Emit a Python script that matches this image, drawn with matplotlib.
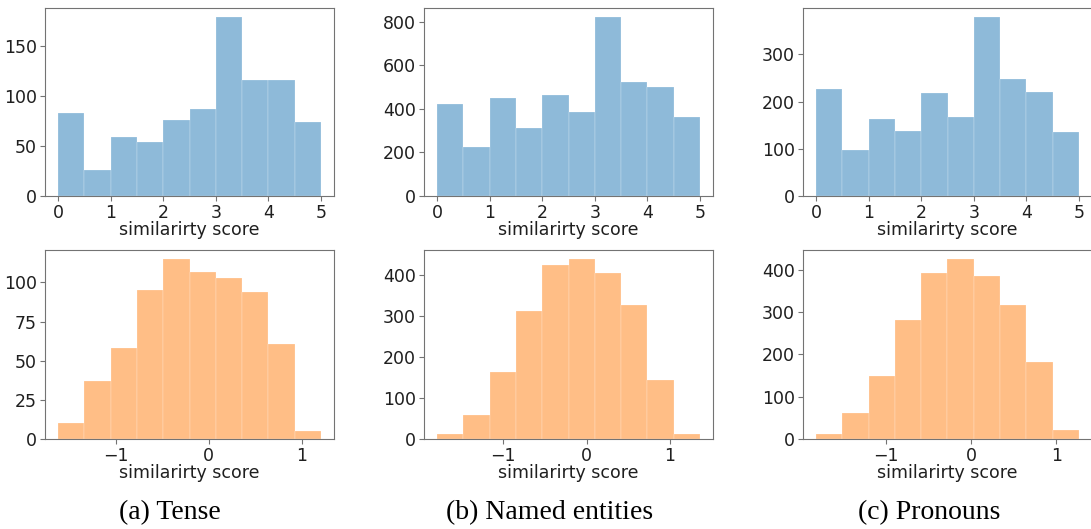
import numpy as np
from matplotlib import pyplot as plt
from matplotlib.ticker import MultipleLocator

# bin counts (10 bins each)
tense_scores = [83, 26, 59, 54, 76, 87, 179, 116, 116, 74]
entities_scores = [422, 226, 448, 311, 465, 385, 822, 524, 501, 362]
pronouns_scores = [226, 97, 163, 137, 218, 167, 379, 248, 221, 135]

tense_diff = [10, 37, 58, 95, 115, 107, 103, 94, 61, 5]
entities_diff = [12, 59, 163, 314, 426, 440, 405, 328, 144, 12]
pronouns_diff = [12, 61, 149, 282, 393, 426, 385, 317, 183, 22]

# value range of each histogram
score_range = (0, 5)
tense_range = (-1.622, 1.207)
entities_range = (-1.792, 1.36)
pronouns_range = (-1.813, 1.263)

captions = ['(a) Tense', '(b) Named entities', '(c) Pronouns']

W, H = 1091, 529


def px_axes(fig, left, top, right, bottom):
    return fig.add_axes([left / W, 1 - bottom / H, (right - left) / W, (bottom - top) / H])


def draw_hist(ax, counts, rng, color):
    edges = np.linspace(rng[0], rng[1], len(counts) + 1)
    ax.hist(edges[:-1], bins=edges, weights=counts, color=color, alpha=0.5,
            edgecolor='white', linewidth=0.3)
    ax.xaxis.set_major_locator(MultipleLocator(1))
    ax.set_xlabel('similarirty score', fontsize=12.5, color='0.12', labelpad=-1)
    ax.tick_params(labelsize=12.5, colors='0.45', labelcolor='0.12', length=3.5, pad=2.5)
    for s in ax.spines.values():
        s.set_color('0.45')


def main():
    fig = plt.figure(figsize=(W / 100, H / 100), dpi=100)

    lefts = [45, 424, 803]
    tops = [tense_scores, entities_scores, pronouns_scores]
    bottoms = [tense_diff, entities_diff, pronouns_diff]
    ranges = [tense_range, entities_range, pronouns_range]
    cap_x = [170, 550, 929]

    for i in range(3):
        ax1 = px_axes(fig, lefts[i], 8, lefts[i] + 289, 196)
        draw_hist(ax1, tops[i], score_range, 'tab:blue')
        ax2 = px_axes(fig, lefts[i], 250, lefts[i] + 289, 439)
        draw_hist(ax2, bottoms[i], ranges[i], 'tab:orange')
        fig.text(cap_x[i] / W, 1 - 513 / H, captions[i], ha='center', va='center',
                 fontsize=20, family='Liberation Serif')

    fig.savefig('out.png', dpi=100)


if __name__ == '__main__':
    main()
